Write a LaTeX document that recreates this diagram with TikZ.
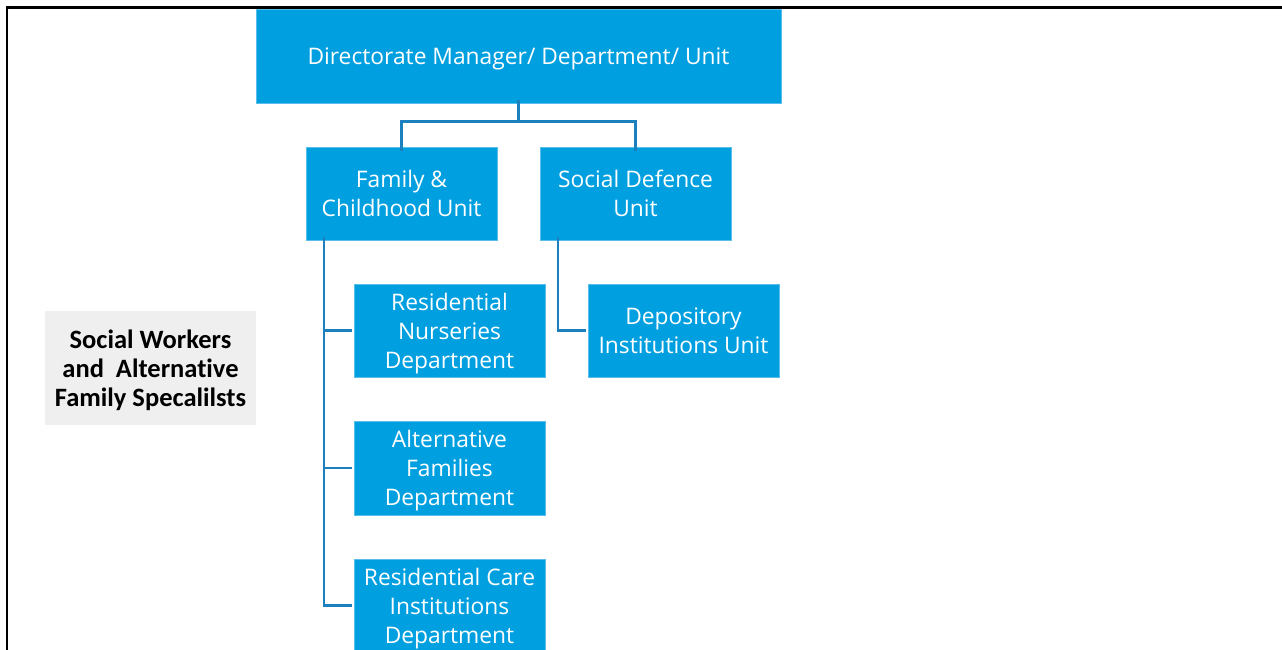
\documentclass[tikz,border=0pt]{standalone}
\usepackage{fontspec}
\setmainfont{Open Sans}
\newfontfamily\calib[Ligatures=NoCommon]{Carlito}
\definecolor{boxblue}{RGB}{0,159,224}
\definecolor{edgeblue}{RGB}{90,190,235}
\definecolor{linkblue}{RGB}{28,128,190}
\definecolor{graybg}{RGB}{239,239,239}
\tikzset{
  unitbox/.style={rectangle, fill=boxblue, draw=edgeblue, line width=0.8pt,
    minimum width=191pt, minimum height=93pt, inner sep=0pt},
  unittext/.style={text=white, align=center, inner sep=0pt,
    font=\fontsize{22.8}{29}\selectfont},
  link/.style={draw=linkblue, line width=2.6pt},
  frameline/.style={draw=black, line width=2.2pt}
}
\begin{document}
\begin{tikzpicture}[x=1pt,y=-1pt]
\useasboundingbox (0,0) rectangle (1282,649);
\begin{scope}
\clip (0,0) rectangle (1282,649);
\draw[frameline] (7,660) -- (7,7.5) -- (1290,7.5);

\node[unitbox, minimum width=525pt, minimum height=94pt,
  label={[unittext, yshift=-3pt]center:Directorate Manager/ Department/ Unit}] (top) at (518.5,56) {};
\node[unitbox, label={[unittext]center:Family \&\\Childhood Unit}] (fam) at (401.5,193.5) {};
\node[unitbox, label={[unittext]center:Social Defence\\Unit}] (soc) at (635.5,193.5) {};
\node[unitbox, label={[unittext, yshift=-3pt]center:Residential\\Nurseries\\Department}] (rn) at (449.5,330.5) {};
\node[unitbox, label={[unittext, yshift=-0.5pt]center:Depository\\Institutions Unit}] (dep) at (683.5,330.5) {};
\node[unitbox, minimum height=94pt, label={[unittext, yshift=-3pt]center:Alternative\\Families\\Department}] (af) at (449.5,468) {};
\node[unitbox, label={[unittext, yshift=-3pt]center:Residential Care\\Institutions\\Department}] (rc) at (449.5,605.5) {};

\node[rectangle, fill=graybg, minimum width=211pt, minimum height=114pt, inner sep=0pt,
  label={[align=center, inner sep=0pt, yshift=-2pt, font=\calib\bfseries\fontsize{26.5}{29}\selectfont]center:Social Workers\\and~~Alternative\\Family Specalilsts}] (sw) at (150.5,368) {};

\draw[link] ([yshift=3]top.south) -- ++(0,21) coordinate (hb);
\draw[link] ([xshift=-1.3]fam.north |- hb) -- ([xshift=1.3]soc.north |- hb);
\draw[link] (fam.north |- hb) -- ([yshift=-4]fam.north);
\draw[link] (soc.north |- hb) -- ([yshift=-4]soc.north);

\draw[link] ([xshift=-77.5,yshift=3]fam.south) |- ([xshift=-2]rn.west);
\draw[link] ([xshift=-77.5,yshift=3]fam.south) |- ([xshift=-2]af.west);
\draw[link] ([xshift=-77.5,yshift=3]fam.south) |- ([xshift=-2]rc.west);
\draw[link] ([xshift=-77.5,yshift=3]soc.south) |- ([xshift=-2]dep.west);
\end{scope}
\end{tikzpicture}
\end{document}
